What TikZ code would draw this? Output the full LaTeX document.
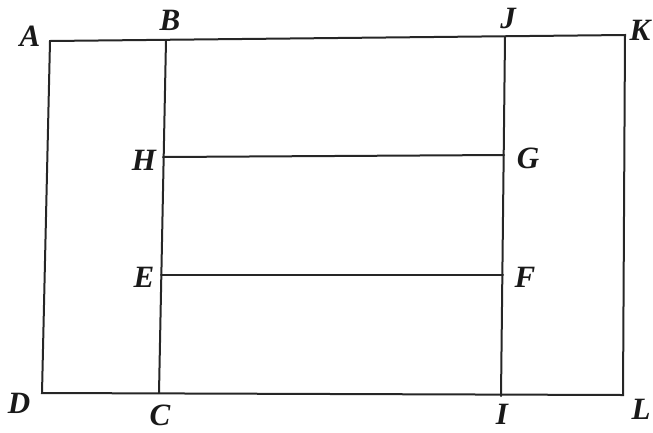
\documentclass[tikz,border=0pt]{standalone}
\usepackage{fontspec}
\setmainfont{Liberation Serif}
\begin{document}
\begin{tikzpicture}[x=1pt,y=-1pt,
  seg/.style={line width=2pt, line cap=round, line join=miter, color=black!85},
  lbl/.style={font=\fontsize{31}{34}\selectfont\bfseries\itshape, inner sep=0pt, text=black!90}]
\useasboundingbox (0,0) rectangle (653,432);
% corners and points
\coordinate (A) at (50,41);
\coordinate (B) at (166,40);
\coordinate (J) at (505,37);
\coordinate (K) at (625,35);
\coordinate (D) at (42,393);
\coordinate (C) at (159,393);
\coordinate (I) at (501,396);
\coordinate (L) at (623,395);
\coordinate (H) at (163,157);
\coordinate (E) at (161,275);
\coordinate (G) at (504,155);
\coordinate (F) at (503,275);
% lines
\draw[seg] (A) -- (K) -- (L) -- (D) -- cycle;
\draw[seg] (B) -- (C);
\draw[seg] (J) -- (I);
\draw[seg] (H) -- (G);
\draw[seg] (E) -- (F);
% labels
\node[lbl] (lA) at (30,36) {A};
\node[lbl] (lB) at (170,20) {B};
\node[lbl] (lJ) at (508,18) {J};
\node[lbl] (lK) at (640,30) {K};
\node[lbl] (lH) at (144,160) {H};
\node[lbl] (lE) at (144,277) {E};
\node[lbl] (lG) at (528,158) {G};
\node[lbl] (lF) at (525,277) {F};
\node[lbl] (lD) at (19,403) {D};
\node[lbl] (lC) at (160,415) {C};
\node[lbl] (lI) at (502,414) {I};
\node[lbl] (lL) at (641,409) {L};
\end{tikzpicture}
\end{document}
